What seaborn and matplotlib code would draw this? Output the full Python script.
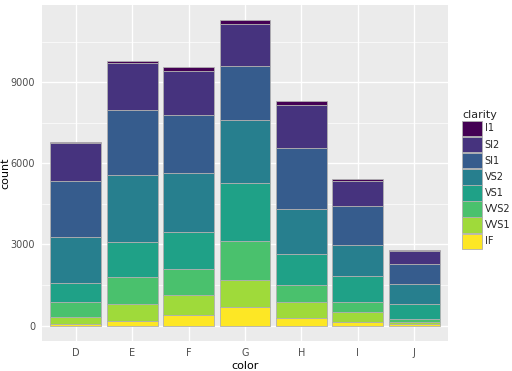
import pandas as pd
import matplotlib
matplotlib.use("Agg")
import matplotlib.pyplot as plt
import seaborn as sns
from matplotlib.patches import Patch
from matplotlib.ticker import MultipleLocator

# diamonds: count per color x clarity
colors = ["D", "E", "F", "G", "H", "I", "J"]
clarity = ["I1", "SI2", "SI1", "VS2", "VS1", "VVS2", "VVS1", "IF"]
I1 = [42, 102, 143, 150, 162, 92, 50]
SI2 = [1370, 1713, 1609, 1548, 1563, 912, 479]
SI1 = [2083, 2426, 2131, 1976, 2275, 1424, 750]
VS2 = [1697, 2470, 2201, 2347, 1643, 1169, 731]
VS1 = [705, 1281, 1364, 2148, 1169, 962, 542]
VVS2 = [553, 991, 975, 1443, 608, 365, 131]
VVS1 = [252, 656, 734, 999, 585, 355, 74]
IF = [73, 158, 385, 681, 299, 143, 51]
counts = [I1, SI2, SI1, VS2, VS1, VVS2, VVS1, IF]

rows = []
for lvl, vals in zip(clarity, counts):
    for c, v in zip(colors, vals):
        rows.append({"color": c, "clarity": lvl, "count": v})
df = pd.DataFrame(rows)
df["color"] = pd.Categorical(df["color"], categories=colors)

pal = ["#440154", "#46337E", "#365C8D", "#277F8E",
       "#1FA187", "#4AC16D", "#9FDA3A", "#FDE725"]

sns.set_theme(style="darkgrid", rc={
    "axes.facecolor": "#EBEBEB",
    "grid.color": "white",
    "axes.edgecolor": "#EBEBEB",
})
plt.rcParams["font.family"] = ["DejaVu Sans"]

fig = plt.figure(figsize=(5.12, 3.71), dpi=100)
ax = fig.add_axes([0.082, 0.081, 0.793, 0.906])

sns.histplot(data=df, x="color", hue="clarity", weights="count",
             hue_order=clarity, palette=pal, multiple="stack",
             discrete=True, shrink=0.9, edgecolor="#B0B0B0",
             linewidth=0.6, alpha=1, legend=False, ax=ax)

total = max(sum(col) for col in zip(*counts))
ax.set_ylim(-0.05 * total, 1.05 * total)
ax.set_xlim(-0.6, len(colors) - 0.4)
ax.yaxis.set_major_locator(MultipleLocator(3000))
ax.yaxis.set_minor_locator(MultipleLocator(1500))
ax.grid(which="major", color="white", linewidth=1.0)
ax.grid(which="minor", axis="y", color="white", linewidth=0.5)
ax.set_axisbelow(True)
for s in ax.spines.values():
    s.set_visible(False)

ax.tick_params(axis="both", which="major", length=3, width=0.6,
               color="#333333", labelcolor="#4D4D4D", labelsize=7, pad=2)
ax.tick_params(axis="both", which="minor", length=0)
ax.set_xlabel("color", fontsize=8, color="black", labelpad=2)
ax.set_ylabel("count", fontsize=8, color="black")
ax.yaxis.set_label_coords(-0.078, 0.5)

handles = [Patch(facecolor=p, edgecolor="#B0B0B0", linewidth=0.6, label=l)
           for p, l in zip(pal, clarity)]
leg = ax.legend(handles=handles, title="clarity", loc="center left",
                bbox_to_anchor=(1.035, 0.48), frameon=False, fontsize=7,
                title_fontsize=8, handlelength=2.0, handleheight=2.1,
                handletextpad=0.3, labelspacing=0.05, borderaxespad=0,
                borderpad=0)
leg._legend_box.align = "left"

fig.savefig("out.png", dpi=100)
